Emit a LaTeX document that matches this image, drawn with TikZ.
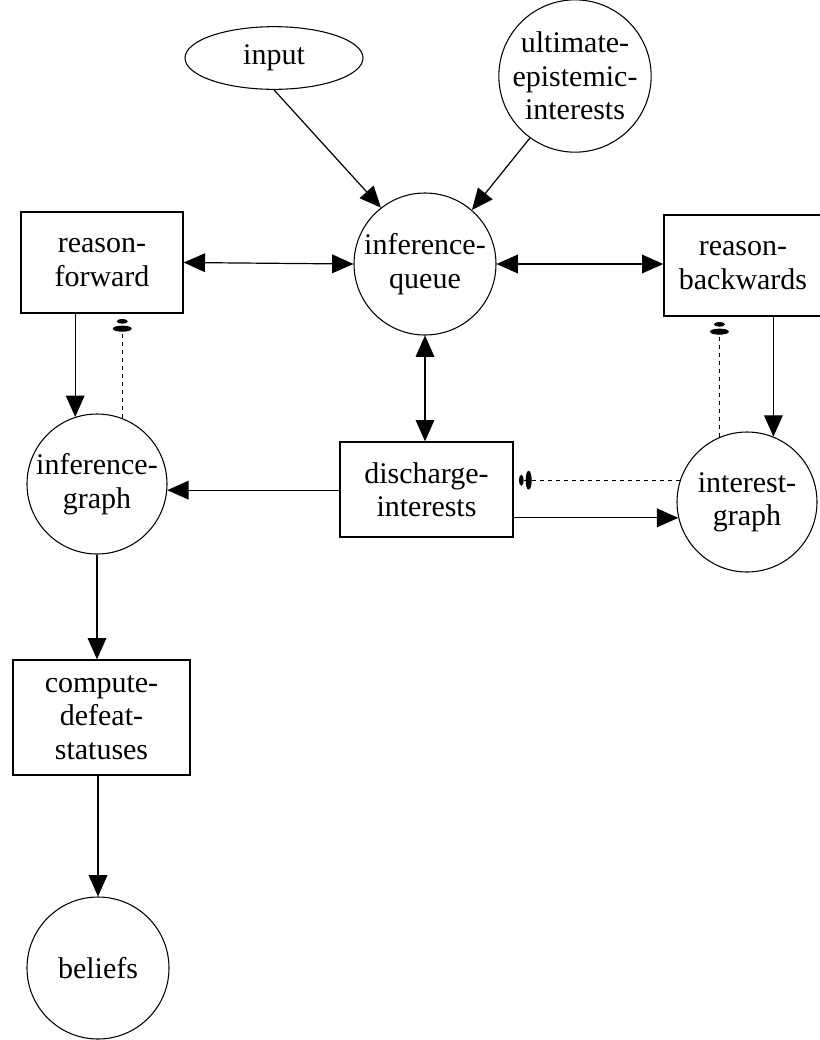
\documentclass[tikz,border=0pt]{standalone}
\usepackage{fontspec}
\setmainfont{Liberation Serif}
\usetikzlibrary{arrows.meta,shapes.geometric}

\tikzset{
  lbl/.style={font=\fontsize{22.5}{25}\selectfont, align=center, inner sep=0pt},
  circ/.style={lbl, draw, circle, line width=0.8pt, minimum size=#1},
  circ/.default=105pt,
  boxnode/.style={lbl, draw, rectangle, line width=1pt},
  flow/.style={line width=0.9pt, -{Triangle[length=16pt,width=14pt]}},
  twoway/.style={line width=0.9pt, {Triangle[length=16pt,width=14pt]}-{Triangle[length=16pt,width=14pt]}},
  feedback/.style={line width=0.9pt, dash pattern=on 3pt off 3pt,
    -{Ellipse[length=4.5pt,width=14pt,sep=1.5pt] Ellipse[length=3.5pt,width=8pt]},
    shorten >=4pt},
}

\begin{document}
\begin{tikzpicture}[x=0.75pt,y=-0.75pt]
  \useasboundingbox (0,0) rectangle (820,1040);

  % processes and data stores
  \node[lbl, draw, ellipse, line width=0.8pt, minimum width=133.5pt, minimum height=47pt] (in) at (274,58) {input};
  \node[circ=106.5pt] (ue) at (575,76) {ultimate-\\epistemic-\\interests};
  \node[circ=106.5pt] (iq) at (425,264) {inference-\\queue};
  \node[boxnode, minimum width=121.5pt, minimum height=75.75pt] (rf) at (102,262.5) {reason-\\forward};
  \node[boxnode, minimum width=118.5pt, minimum height=75.75pt] (rb) at (743,265.5) {reason-\\backwards};
  \node[circ] (ig) at (97,484) {inference-\\graph};
  \node[boxnode, minimum width=129.75pt, minimum height=71.25pt] (di) at (426.5,489.5) {discharge-\\interests};
  \node[circ] (ing) at (747,502) {interest-\\graph};
  \node[boxnode, minimum width=132.75pt, minimum height=86.25pt] (cd) at (101.5,717.5) {compute-\\defeat-\\statuses};
  \node[circ=106.5pt] (be) at (98,968) {beliefs};

  % solid connectors
  \draw[flow] (in.south) -- (iq.128);
  \draw[flow] (ue.234) -- (iq.49);
  \draw[twoway] (rf.east) -- (iq.west);
  \draw[twoway] (iq.east) -- (iq.east -| rb.west);
  \draw[twoway] (iq.south) -- (iq.south |- di.north);
  \draw[flow] (rf.south -| ig.108) -- (ig.108);
  \draw[flow] (rb.south -| ing.68) -- (ing.68);
  \draw[flow] (ig.-5 -| di.west) -- (ig.-5);
  \draw[flow] (ing.193 -| di.east) -- (ing.193);
  \draw[flow] (ig.south) -- (ig.south |- cd.north);
  \draw[flow] (be.north |- cd.south) -- (be.north);

  % dashed feedback connectors
  \draw[feedback] (ig.69) -- (ig.69 |- rf.south);
  \draw[feedback] (ing.113) -- (ing.113 |- rb.south);
  \draw[feedback] (ing.162) -- (ing.162 -| di.east);
\end{tikzpicture}
\end{document}
